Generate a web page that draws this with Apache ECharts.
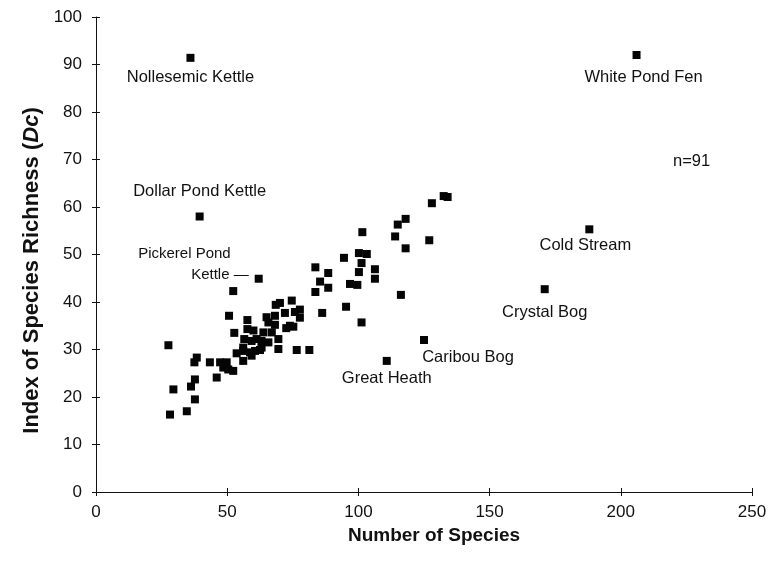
<!DOCTYPE html>
<html>
<head>
<meta charset="utf-8">
<script src="https://cdn.jsdelivr.net/npm/echarts@6/dist/echarts.min.js"></script>
<style>
  html, body { margin: 0; padding: 0; background: #fff; }
  #chart { width: 775px; height: 572px; }
</style>
</head>
<body>
<div id="chart"></div>
<script>
// Named wetland sites (number of species, index of species richness Dc)
const siteNames   = ['Nollesemic Kettle', 'White Pond Fen', 'Dollar Pond Kettle', 'Cold Stream',
                     'Crystal Bog', 'Caribou Bog', 'Great Heath', 'Pickerel Pond Kettle'];
const siteSpecies = [36, 206, 39.5, 188, 171, 125, 110.8, 62];
const siteIndex   = [91.4, 92, 58, 55.3, 42.7, 32, 27.6, 44.9];

// Remaining unnamed sites
const otherSpecies = [
  132.5, 134, 128, 118, 115, 101.5, 114, 127, 118, 100.2, 103.2, 94.5, 101.2, 83.6, 106.3,
  88.5, 100.2, 106.3, 85.4, 88.5, 96.8, 99.6, 83.6, 116.2, 95.3, 101.2, 76.5, 81.3, 86.2,
  74.6, 70.1, 68.5, 77.7, 75.8, 72, 68.2, 77.7, 65, 68.2, 65.7, 73.9, 72.5, 75.2, 63.8,
  67, 60, 69.5, 61.2, 63.1, 65.7, 59.3, 56.1, 63.1, 69.5, 60.6, 62.5, 59.3, 52.3, 50.7,
  57.7, 52.7, 56.5, 53.6, 56.1, 58.7, 56.1, 47.3, 49.8, 48.5, 50.4, 52.3, 46, 43.4,
  27.6, 38.4, 37.5, 37.7, 36.2, 29.5, 37.7, 28.2, 34.6, 57.7
];
const otherIndex = [
  62.3, 62.1, 60.8, 57.5, 56.3, 54.7, 53.8, 53, 51.3, 50.3, 50.1, 49.3, 48.2, 47.3, 46.9,
  46.1, 46.3, 44.9, 44.3, 43, 43.8, 43.6, 42.1, 41.5, 39, 35.7, 29.9, 29.9, 37.7,
  40.3, 39.8, 39.4, 38.4, 37.9, 37.7, 37.1, 36.7, 36.8, 35.2, 35.7, 35, 34.5, 34.8, 33.6,
  33.6, 34, 32.2, 32.2, 31.8, 31.5, 31.8, 30.4, 30.4, 30.1, 29.7, 29.9, 28.7, 42.3, 37.1,
  36.2, 33.5, 32.2, 29.2, 29.7, 29.4, 27.6, 27.3, 27.3, 26.2, 25.8, 25.5, 24.1, 27.3,
  30.9, 28.3, 27.3, 23.7, 22.2, 21.6, 19.5, 16.3, 17.0, 34.3
];

// Axis ticks
const xTicks = { min: 0, max: 250, interval: 50 };
const yTicks = { min: 0, max: 100, interval: 10 };
const sampleNote = 'n=91';

const FONT = '"Liberation Sans", Arial, Helvetica, sans-serif';
const INK = '#111111';
const LABEL_SIZE = 16.5;

// Where each site name sits relative to its marker
const siteLabelStyle = {
  'Nollesemic Kettle':  { position: 'bottom', distance: 7 },
  'White Pond Fen':     { position: 'bottom', distance: 10 },
  'Dollar Pond Kettle': { position: 'top', distance: 13 },
  'Cold Stream':        { position: 'bottom', distance: 4 },
  'Crystal Bog':        { position: 'bottom', distance: 11 },
  'Caribou Bog':        { position: 'bottom', distance: 5 },
  'Great Heath':        { position: 'bottom', distance: 5 },
  'Pickerel Pond Kettle': {
    position: 'left', distance: 6, align: 'right',
    formatter: '{a|Pickerel Pond}\n{b|Kettle —}',
    rich: {
      a: { fontFamily: FONT, fontSize: 15, color: INK, align: 'right', padding: [0, 18, 6, 0] },
      b: { fontFamily: FONT, fontSize: 15, color: INK, align: 'right' }
    }
  }
};
// Extra nudges applied to the site labels after layout
const siteLabelShift = {
  'White Pond Fen': [7, 0],
  'Cold Stream': [-4, 0],
  'Caribou Bog': [44, 0],
  'Pickerel Pond Kettle': [0, -14]
};

const namedData = siteNames.map((name, i) => ({
  name: name,
  value: [siteSpecies[i], siteIndex[i]],
  label: Object.assign({
    show: true,
    formatter: name,
    fontFamily: FONT,
    fontSize: LABEL_SIZE,
    color: INK,
    opacity: 1
  }, siteLabelStyle[name])
}));

const otherData = otherSpecies.map((x, i) => [x, otherIndex[i]]);

const chart = echarts.init(document.getElementById('chart'), null, { renderer: 'canvas' });

const baseX = {
  type: 'value', min: xTicks.min, max: xTicks.max, interval: xTicks.interval,
  splitLine: { show: false }
};
const baseY = {
  type: 'value', min: yTicks.min, max: yTicks.max, interval: yTicks.interval,
  splitLine: { show: false }
};

chart.setOption({
  animation: false,
  backgroundColor: '#ffffff',
  grid: { left: 96, right: 23, top: 17, bottom: 80, containLabel: false },
  title: {
    text: sampleNote, left: 668, top: 148,
    textStyle: { fontFamily: FONT, fontSize: 16.5, fontWeight: 'normal', color: INK }
  },
  xAxis: [
    Object.assign({}, baseX, {
      name: 'Number of Species',
      nameLocation: 'middle',
      nameGap: 30,
      nameTextStyle: { fontFamily: FONT, fontSize: 19, fontWeight: 'bold', color: INK, padding: [0, 0, 0, 20] },
      axisLine: { lineStyle: { color: INK, width: 1 } },
      axisTick: { show: true, length: 4, lineStyle: { color: INK } },
      axisLabel: { fontFamily: FONT, fontSize: 17, color: INK, margin: 12 }
    }),
    Object.assign({}, baseX, {
      position: 'bottom',
      axisLine: { show: false },
      axisTick: { show: true, inside: true, length: 4, lineStyle: { color: INK } },
      axisLabel: { show: false }
    })
  ],
  yAxis: [
    Object.assign({}, baseY, {
      name: '{n|Index of Species Richness (}{i|Dc}{n|)}',
      nameLocation: 'middle',
      nameGap: 52,
      nameTextStyle: {
        padding: [0, 32, 0, 0],
        rich: {
          n: { fontFamily: FONT, fontSize: 22, fontWeight: 'bold', color: INK },
          i: { fontFamily: FONT, fontSize: 22, fontWeight: 'bold', fontStyle: 'italic', color: INK }
        }
      },
      axisLine: { lineStyle: { color: INK, width: 1 } },
      axisTick: { show: true, length: 4, lineStyle: { color: INK } },
      axisLabel: { fontFamily: FONT, fontSize: 17, color: INK, margin: 14 }
    }),
    Object.assign({}, baseY, {
      position: 'left',
      axisLine: { show: false },
      axisTick: { show: true, inside: true, length: 4, lineStyle: { color: INK } },
      axisLabel: { show: false }
    })
  ],
  series: [
    {
      type: 'scatter',
      symbol: 'rect',
      symbolSize: 8,
      itemStyle: { color: '#050505', opacity: 1 },
      data: otherData,
      z: 2
    },
    {
      type: 'scatter',
      symbol: 'rect',
      symbolSize: 8,
      itemStyle: { color: '#050505', opacity: 1 },
      data: namedData,
      labelLayout: function (params) {
        const shift = siteLabelShift[siteNames[params.dataIndex]] || [0, 0];
        return { dx: shift[0], dy: shift[1], hideOverlap: false };
      },
      z: 3
    }
  ]
});
</script>
</body>
</html>
